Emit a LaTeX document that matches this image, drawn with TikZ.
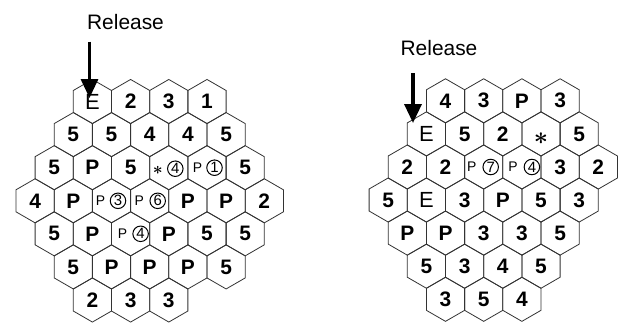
\documentclass[tikz,border=0pt]{standalone}
\usepackage{fontspec}
\setmainfont{Liberation Sans}
\usetikzlibrary{shapes.geometric,arrows.meta}

\tikzset{
  hexcell/.style={draw=black!80, line width=0.8bp, regular polygon,
    regular polygon sides=6, shape border rotate=30,
    minimum size=44.1bp, inner sep=0pt, outer sep=0pt},
  cellnum/.style={font=\fontsize{21}{21}\selectfont\bfseries, inner sep=0pt},
  smallp/.style={font=\fontsize{14}{14}\selectfont, inner sep=0pt},
  ring/.style={circle, draw, line width=1bp, minimum size=15.5bp,
    inner sep=0pt, font=\fontsize{15}{15}\selectfont},
  star/.style={inner sep=0pt},
  caption/.style={font=\fontsize{21}{21}\selectfont, anchor=base, inner sep=0pt},
  relarrow/.style={line width=#1, -{Triangle[length=19bp,width=17bp]}},
}

% one row of cells: #1 grid prefix, #2 row, #3 x of first centre, #4 y, #5 labels
\newcommand\hexrow[5]{%
  \foreach \lab [count=\k] in {#5} {
    \node[hexcell] (#1#2-\k) at ({#3+(\k-1)*38.2}, #4) {};
    \ifx\lab\empty\else
      \node[cellnum] (#1#2-\k-t) at (#1#2-\k.center) {\lab};
    \fi
  }%
}
% a cell holding a small P and a circled digit: #1 cell, #2/#3 x offsets, #4 digit
\newcommand\ringcell[4]{%
  \node[smallp] (#1-p) at ([xshift=#2bp]#1.center) {P};
  \node[ring] (#1-r) at ([xshift=#3bp]#1.center) {#4};
}

\begin{document}
\begin{tikzpicture}[x=1bp,y=-1bp]
\useasboundingbox (0,0) rectangle (623,322);

% ---- left grid ----
\hexrow{L}{1}{92.4}{101.5}{{\mdseries\fontsize{22}{22}\selectfont E},2,3,1}
\hexrow{L}{2}{73.3}{134.6}{5,5,4,4,5}
\hexrow{L}{3}{54.2}{167.7}{5,P,5,,,5}
\hexrow{L}{4}{35.1}{200.8}{4,P,,,P,P,2}
\hexrow{L}{5}{54.2}{233.8}{5,P,,P,5,5}
\hexrow{L}{6}{73.3}{266.9}{5,P,P,P,5}
\hexrow{L}{7}{92.4}{300.0}{2,3,3}

\node[star, font=\fontsize{17}{17}\selectfont\boldmath] (L3-4-s)
  at ([xshift=-11bp,yshift=-3bp]L3-4.center) {$\ast$};
\node[ring] (L3-4-r) at ([xshift=6.5bp,yshift=-1bp]L3-4.center) {4};
\ringcell{L3-5}{-9.5}{7.5}{1}
\ringcell{L4-3}{-11}{6.5}{3}
\ringcell{L4-4}{-10.5}{8}{6}
\ringcell{L5-3}{-8}{10}{4}

\node[caption] (relL) at (125.5,29) {Release};
\coordinate (relL-from) at (89.5,41.5);
\coordinate (relL-to) at (89.5,98);
\draw[relarrow=3.2bp] (relL-from) -- (relL-to);

% ---- right grid ----
\hexrow{R}{1}{445.5}{100.8}{4,3,P,3}
\hexrow{R}{2}{426.4}{133.9}{{\mdseries\fontsize{22}{22}\selectfont E},5,2,,5}
\hexrow{R}{3}{407.3}{167.0}{2,2,,,3,2}
\hexrow{R}{4}{388.2}{200.0}{5,{\mdseries\fontsize{22}{22}\selectfont E},3,P,5,3}
\hexrow{R}{5}{407.3}{233.1}{P,P,3,3,5}
\hexrow{R}{6}{426.4}{266.2}{5,3,4,5}
\hexrow{R}{7}{445.5}{299.3}{3,5,4}

\node[star, font=\fontsize{29}{29}\selectfont\boldmath] (R2-4-s)
  at ([yshift=-5bp]R2-4.center) {$\ast$};
\ringcell{R3-3}{-12}{7}{7}
\ringcell{R3-4}{-9}{10}{4}

\node[caption] (relR) at (439,55) {Release};
\coordinate (relR-from) at (413,73.3);
\coordinate (relR-to) at (413,123);
\draw[relarrow=3.4bp] (relR-from) -- (relR-to);
\end{tikzpicture}
\end{document}
